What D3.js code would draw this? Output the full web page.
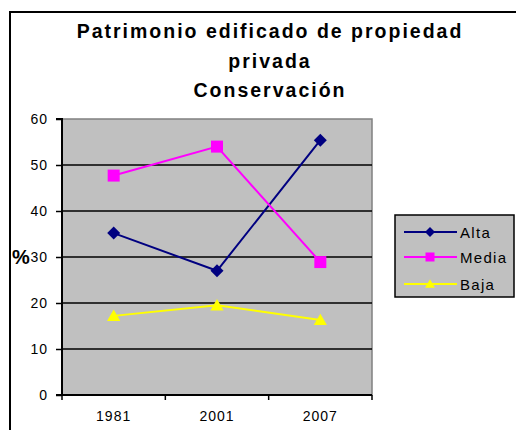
<!DOCTYPE html>
<html><head><meta charset="utf-8">
<script src="https://cdn.jsdelivr.net/npm/d3@7"></script>
<style>body{margin:0;background:#fff}svg{display:block}</style>
</head><body>
<script>
const categories = ["1981", "2001", "2007"];
const seriesNames = ["Alta", "Media", "Baja"];
const alta = [35.2, 27.0, 55.4];
const media = [47.7, 54.0, 28.9];
const baja = [17.2, 19.5, 16.3];
const yTicks = [0, 10, 20, 30, 40, 50, 60];
const titleLines = ["Patrimonio edificado de propiedad", "privada", "Conservación"];
const colors = ["#000080", "#ff00ff", "#ffff00"];
const series = [alta, media, baja];

(function () {
const W = 516, H = 430;
const svg = d3.select("body").append("svg").attr("width", W).attr("height", H);
svg.append("rect").attr("width", W).attr("height", H).attr("fill", "#fff");
svg.append("rect").attr("x", 10).attr("y", 12).attr("width", 520).attr("height", 440)
  .attr("fill", "none").attr("stroke", "#000").attr("stroke-width", 2);

const pL = 62, pR = 372, pT = 119, pB = 395;
const x = d3.scaleBand().domain(categories).range([pL, pR]);
const y = d3.scaleLinear().domain([0, 60]).range([pB, pT]);

const font = "Arial, 'Liberation Sans', sans-serif";
svg.append("g").selectAll("text").data(titleLines).join("text")
  .attr("x", 270).attr("y", (d, i) => 38 + i * 29.5)
  .attr("text-anchor", "middle").attr("font-family", font)
  .attr("font-weight", "bold").attr("font-size", 19.5).attr("letter-spacing", 2).text(d => d);

svg.append("rect").attr("x", pL).attr("y", pT).attr("width", pR - pL).attr("height", pB - pT)
  .attr("fill", "#c0c0c0").attr("stroke", "#808080").attr("stroke-width", 1.5);

svg.append("g").selectAll("line").data(yTicks.filter(t => t > 0 && t < 60)).join("line")
  .attr("x1", pL).attr("x2", pR).attr("y1", d => y(d)).attr("y2", d => y(d))
  .attr("stroke", "#000").attr("stroke-width", 1.5);

const yAxis = d3.axisLeft(y).tickValues(yTicks).tickSize(6).tickPadding(8).tickFormat(d3.format("d"));
const gy = svg.append("g").attr("transform", `translate(${pL},0)`).call(yAxis);
gy.select(".domain").attr("stroke", "#000").attr("stroke-width", 2).attr("d", `M-6,${pT}H0V${pB}H-6`);
gy.selectAll(".tick line").attr("stroke", "#000").attr("stroke-width", 1.5);
gy.selectAll("text").attr("font-family", font).attr("font-size", 14).attr("letter-spacing", 1).attr("fill", "#000");

const xAxis = d3.axisBottom(x).tickSize(0).tickPadding(16);
const gx = svg.append("g").attr("transform", `translate(0,${pB})`).call(xAxis);
gx.select(".domain").attr("stroke", "#000").attr("stroke-width", 2).attr("d", `M${pL},0H${pR}`);
gx.selectAll("text").attr("font-family", font).attr("font-size", 14).attr("letter-spacing", 1).attr("fill", "#000");
const bounds = categories.map(c => x(c)).concat([pR]);
svg.append("g").selectAll("line").data(bounds).join("line")
  .attr("x1", d => d).attr("x2", d => d).attr("y1", pB).attr("y2", pB + 5)
  .attr("stroke", "#000").attr("stroke-width", 1.5);

svg.append("text").attr("x", 12).attr("y", 264).attr("font-family", font)
  .attr("font-weight", "bold").attr("font-size", 20).text("%");

function marker(i, s) {
  if (i === 0) return `M0,${-s}L${s},0L0,${s}L${-s},0Z`;
  if (i === 1) return `M${-s},${-s}H${s}V${s}H${-s}Z`;
  return `M0,${-s * 1.05}L${s * 1.1},${s * 0.85}H${-s * 1.1}Z`;
}
const msize = [6.5, 6, 6];

const cx = c => x(c) + x.bandwidth() / 2;
series.forEach((vals, i) => {
  const line = d3.line().x((d, j) => cx(categories[j])).y(d => y(d));
  svg.append("path").datum(vals).attr("d", line).attr("fill", "none")
    .attr("stroke", colors[i]).attr("stroke-width", 2);
  svg.append("g").selectAll("path").data(vals).join("path")
    .attr("transform", (d, j) => `translate(${cx(categories[j])},${y(d)})`)
    .attr("d", marker(i, msize[i]))
    .attr("fill", colors[i]);
});

const lg = svg.append("g");
lg.append("rect").attr("x", 395).attr("y", 215).attr("width", 119).attr("height", 82)
  .attr("fill", "#c0c0c0").attr("stroke", "#000").attr("stroke-width", 1.5);
const rowsY = [232, 257, 284];
seriesNames.forEach((n, i) => {
  lg.append("line").attr("x1", 404).attr("x2", 457).attr("y1", rowsY[i]).attr("y2", rowsY[i])
    .attr("stroke", colors[i]).attr("stroke-width", 2);
  lg.append("path").attr("transform", `translate(430,${rowsY[i]})`)
    .attr("d", marker(i, i === 0 ? 5 : 4.5)).attr("fill", colors[i]);
  lg.append("text").attr("x", 460).attr("y", rowsY[i] + 5.5).attr("font-family", font)
    .attr("font-size", 15).attr("letter-spacing", 1.3).text(n);
});
})();
</script>
</body></html>
